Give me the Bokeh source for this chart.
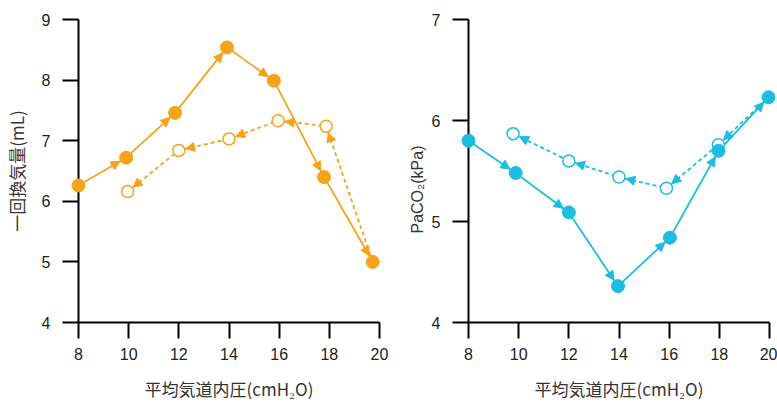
import math

from bokeh.core.properties import value
from bokeh.embed import file_html
from bokeh.layouts import row
from bokeh.models import Arrow, FixedTicker, NormalHead
from bokeh.plotting import figure
from bokeh.resources import INLINE

# ---- data -------------------------------------------------------------
pressure_ticks = [8, 10, 12, 14, 16, 18, 20]

# tidal volume while the mean airway pressure is raised step by step
vt_up_x = [8.0, 9.9, 11.85, 13.92, 15.79, 17.79, 19.73]
vt_up_y = [6.26, 6.72, 7.46, 8.54, 7.99, 6.40, 5.00]
# tidal volume while the pressure is lowered again
vt_down_x = [17.87, 15.96, 14.0, 12.0, 9.96]
vt_down_y = [7.24, 7.33, 7.03, 6.84, 6.16]
vt_ticks = [4, 5, 6, 7, 8, 9]

# PaCO2 while the pressure is raised
pa_up_x = [8.0, 9.88, 12.0, 13.96, 16.03, 17.97, 19.96]
pa_up_y = [5.80, 5.48, 5.09, 4.36, 4.84, 5.70, 6.23]
# PaCO2 while the pressure is lowered
pa_down_x = [17.96, 15.89, 14.0, 12.0, 9.78]
pa_down_y = [5.76, 5.33, 5.44, 5.60, 5.87]
pa_ticks = [4, 5, 6, 7]

ORANGE = "#F6A31C"
CYAN = "#1DBDE0"
X_LABEL = "平均気道内圧(cmH₂O)"

HEIGHT = 404
TOP, BOTTOM = 19, 82
BORDER_LEFT = 78


def add_arrow_heads(p, xs, ys, color, px_x, px_y, gap=7.0):
    """Put a filled arrow head at the end of every segment, just short of the marker."""
    for x0, y0, x1, y1 in zip(xs[:-1], ys[:-1], xs[1:], ys[1:]):
        length = math.hypot((x1 - x0) * px_x, (y1 - y0) * px_y)
        f = (length - gap) / length
        p.add_layout(Arrow(
            end=NormalHead(size=9, fill_color=color, line_color=color, line_width=1),
            x_start=x0, y_start=y0,
            x_end=x0 + (x1 - x0) * f, y_end=y0 + (y1 - y0) * f,
            line_alpha=0,
        ))


def make_panel(width, border_right, y_ticks, color, up_x, up_y, down_x, down_y,
               y_label=None):
    x_start, x_end = pressure_ticks[0], pressure_ticks[-1]
    y_start, y_end = y_ticks[0], y_ticks[-1]
    p = figure(
        width=width, height=HEIGHT,
        x_range=(x_start, x_end), y_range=(y_start, y_end),
        min_border_left=BORDER_LEFT, min_border_right=border_right,
        min_border_top=TOP, min_border_bottom=BOTTOM,
        toolbar_location=None, output_backend="svg",
        background_fill_color="white", border_fill_color="white",
    )
    p.outline_line_color = None
    p.grid.grid_line_color = None

    xa = p.xaxis[0]
    ya = p.yaxis[0]
    xa.ticker = FixedTicker(ticks=pressure_ticks)
    ya.ticker = FixedTicker(ticks=y_ticks)

    for ax in (xa, ya):
        ax.axis_line_width = 2
        ax.axis_line_color = "black"
        ax.major_tick_line_width = 2
        ax.major_tick_line_color = "black"
        ax.major_tick_out = 16
        ax.major_tick_in = 0
        ax.minor_tick_line_color = None
        ax.major_label_text_font = "Liberation Sans"
        ax.major_label_text_font_size = "16px"
        ax.major_label_text_color = "#222222"
        ax.axis_label_text_font = "Noto Sans CJK JP"
        ax.axis_label_text_font_size = "17px"
        ax.axis_label_text_font_style = "normal"
        ax.axis_label_text_color = "#333333"

    xa.major_label_standoff = 9
    ya.major_label_standoff = 12
    xa.axis_label = X_LABEL
    xa.axis_label_standoff = 13
    if y_label is not None:
        ya.axis_label = y_label
        ya.axis_label_standoff = 10

    frame_w = width - BORDER_LEFT - border_right
    frame_h = HEIGHT - TOP - BOTTOM
    px_x = frame_w / (x_end - x_start)
    px_y = frame_h / (y_end - y_start)

    ret_x = [up_x[-1]] + down_x
    ret_y = [up_y[-1]] + down_y

    # glyphs drawn on the overlay level so markers on the frame edge stay whole
    p.line(ret_x, ret_y, line_color=color, line_width=1.8, line_dash="4 3",
           level="overlay")
    p.line(up_x, up_y, line_color=color, line_width=1.8, level="overlay")
    p.scatter(down_x, down_y, size=12, fill_color="white",
              line_color=color, line_width=1.5, level="overlay")
    p.scatter(up_x, up_y, size=13, fill_color=color, line_color=color,
              level="overlay")

    add_arrow_heads(p, up_x, up_y, color, px_x, px_y)
    add_arrow_heads(p, ret_x, ret_y, color, px_x, px_y)
    return p, px_x, px_y


left, _, _ = make_panel(390, 11, vt_ticks, ORANGE,
                        vt_up_x, vt_up_y, vt_down_x, vt_down_y,
                        y_label="一回換気量(mL)")
right, rpx_x, rpx_y = make_panel(387, 8, pa_ticks, CYAN,
                                 pa_up_x, pa_up_y, pa_down_x, pa_down_y)

# vertical title of the PaCO2 axis, set 51 px left of the axis and
# starting 89 px above the bottom of the plot area
right.text(
    x=[pressure_ticks[0] - 51 / rpx_x], y=[pa_ticks[0] + 89 / rpx_y],
    text=["PaCO₂(kPa)"], angle=math.pi / 2,
    text_align="left", text_baseline="middle",
    text_font=value("Liberation Sans"), text_font_size=value("16px"),
    text_color="#333333", level="overlay",
)

layout = row(left, right)
open("out.html", "w").write(file_html(layout, INLINE))
